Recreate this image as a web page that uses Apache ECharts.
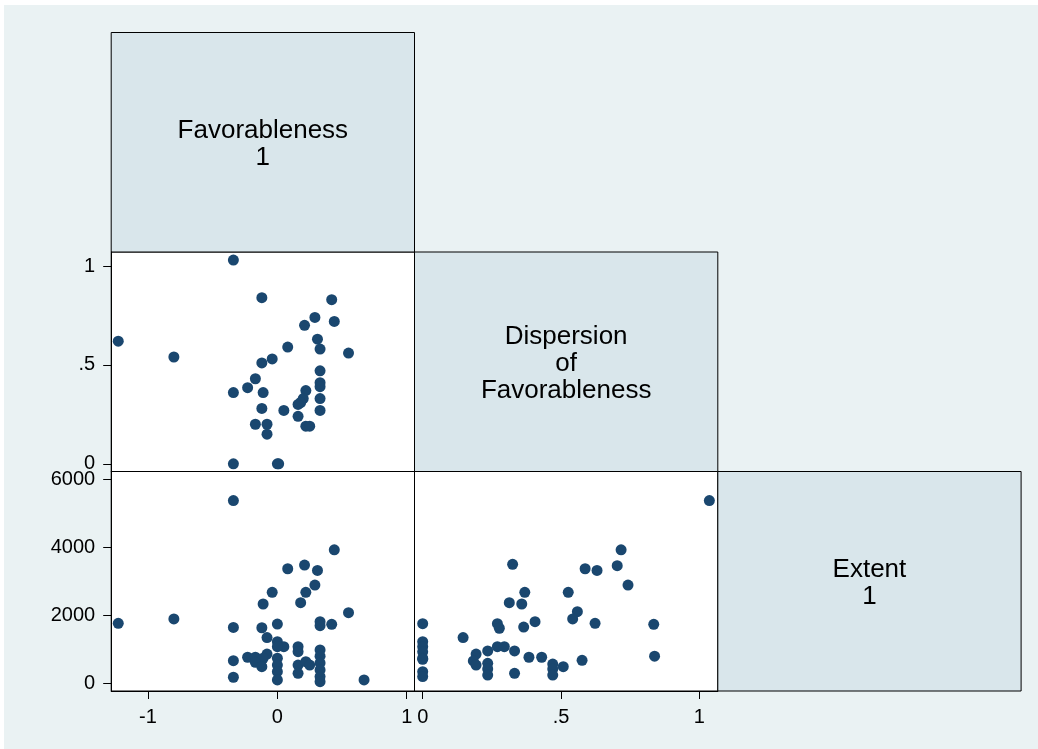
<!DOCTYPE html>
<html>
<head>
<meta charset="utf-8">
<style>html,body{margin:0;padding:0;background:#fff;}#c{width:1038px;height:749px;}</style>
<script src="https://cdn.jsdelivr.net/npm/echarts@6/dist/echarts.min.js"></script>
</head>
<body>
<div id="c"></div>
<script>
// Variable names shown on the diagonal
const varLabels = ['Favorableness\n1', 'Dispersion\nof\nFavorableness', 'Extent\n1'];

// Tick labels
const favTicks = [-1, 0, 1];
const dispTicks = [0, 0.5, 1];
const extTicks = [0, 2000, 4000, 6000];

// Favorableness (x) vs Dispersion (y)
const favDisp = [
  [-0.34,1.03],[-0.12,0.84],[0.42,0.83],[0.29,0.74],[0.44,0.72],[0.21,0.70],
  [0.31,0.63],[-1.23,0.62],[0.33,0.58],[0.08,0.59],[0.55,0.56],[-0.80,0.54],
  [-0.04,0.53],[-0.12,0.51],[0.33,0.47],[-0.17,0.43],[0.33,0.41],[0.33,0.39],
  [-0.23,0.385],[0.22,0.37],[-0.34,0.36],[-0.11,0.36],[0.33,0.33],[0.20,0.33],
  [0.18,0.31],[0.16,0.30],[-0.12,0.28],[0.05,0.27],[0.33,0.27],[0.16,0.24],
  [-0.17,0.20],[-0.08,0.20],[0.22,0.19],[0.25,0.19],[-0.08,0.15],
  [-0.34,0],[0,0],[0.01,0]
];

// Favorableness (x) vs Extent (y)
const favExt = [
  [-0.34,5380],[0.44,3930],[0.08,3370],[0.21,3480],[0.31,3320],[0.29,2890],
  [0.22,2675],[-0.04,2675],[0.18,2370],[-0.11,2330],[0.55,2075],[-1.23,1760],
  [-0.80,1890],[-0.34,1640],[-0.12,1630],[0,1740],[0.33,1810],[0.33,1690],
  [0.42,1730],[-0.08,1340],[0,1220],[0.05,1070],[0,1070],[0.16,1070],
  [0.16,925],[0.33,975],[-0.23,760],[-0.17,760],[-0.08,855],[-0.11,730],
  [-0.17,610],[-0.12,480],[-0.34,660],[-0.34,170],[0,730],[0,530],[0,335],
  [0,90],[0.16,530],[0.16,285],[0.22,630],[0.25,530],[0.33,790],[0.33,590],
  [0.33,385],[0.33,190],[0.33,40],[0.67,90]
];

// Dispersion (x) vs Extent (y)
const dispExt = [
  [1.036,5380],[0.717,3930],[0.325,3500],[0.587,3370],[0.630,3320],[0.703,3460],
  [0.742,2890],[0.369,2675],[0.526,2675],[0.313,2370],[0.358,2330],[0.559,2105],
  [0.542,1890],[0,1750],[0.270,1750],[0.277,1615],[0.365,1650],[0.406,1810],
  [0.623,1760],[0.835,1730],[0,1220],[0,1070],[0.146,1340],[0.270,1070],
  [0.295,1070],[0.235,945],[0.332,945],[0.193,855],[0,920],[0,730],[0,700],
  [0.183,650],[0.193,530],[0.235,580],[0.235,415],[0.235,235],[0.384,760],
  [0.430,760],[0.470,560],[0.470,415],[0.470,235],[0.508,480],[0.576,670],
  [0.838,790],[0.332,285],[0,335],[0,190]
];

const FONT = '"Liberation Sans", Arial, Helvetica, sans-serif';
const navy = '#1A476F';
const panelFill = '#D9E6EB';
const colX = [111.2, 414.5, 717.8];
const rowY = [32.5, 252, 471.5];
const cw = 303.3, rh = 219.5;

const favRange = [-1.2845, 1.060];
const dispXRange = [-0.0296, 1.0665];
const dispYRange = [-0.0389, 1.0708];
const extRange = [-236, 6239];

function fmt(v) {
  if (v !== 0 && Math.abs(v) < 1) {
    return (v < 0 ? '-' : '') + String(Math.abs(v)).replace(/^0\./, '.');
  }
  return String(v);
}

function mkGrid(c, r) {
  return {left: colX[c], top: rowY[r], width: cw, height: rh, show: true,
    backgroundColor: '#ffffff', borderColor: '#000', borderWidth: 1,
    containLabel: false, outerBoundsMode: 'none'};
}

function axis(type, grid, range, ticks, show, pos) {
  return {
    type: 'value', gridIndex: grid, min: range[0], max: range[1], position: pos,
    splitLine: {show: false},
    axisLine: {show: true, onZero: false, lineStyle: {color: '#000', width: 1}},
    axisTick: {show: show, length: 8, inside: false, customValues: ticks, lineStyle: {color: '#000', width: 1}},
    axisLabel: {show: show, customValues: ticks, formatter: fmt, color: '#000',
      fontSize: 20, fontFamily: FONT, margin: type === 'x' ? 16 : 16},
    minorTick: {show: false}
  };
}

const chart = echarts.init(document.getElementById('c'), null, {renderer: 'canvas'});

const labelRects = [[0,0],[1,1],[2,2]].map(([c, r], i) => ([
  {type: 'rect', shape: {x: colX[c], y: rowY[r], width: cw, height: rh},
   style: {fill: panelFill, stroke: '#000', lineWidth: 1}},
  {type: 'text', x: colX[c] + cw / 2, y: rowY[r] + rh / 2 + 2,
   style: {text: varLabels[i], fill: '#000', font: '26px ' + FONT,
     align: 'center', verticalAlign: 'middle', lineHeight: 27}}
])).flat();

chart.setOption({
  animation: false,
  backgroundColor: '#EAF2F3',
  graphic: [
    {type: 'rect', shape: {x: 0, y: 0, width: 1038, height: 5}, style: {fill: '#fff'}},
    {type: 'rect', shape: {x: 0, y: 0, width: 4, height: 749}, style: {fill: '#fff'}},
    ...labelRects
  ],
  grid: [mkGrid(0, 1), mkGrid(0, 2), mkGrid(1, 2)],
  xAxis: [
    axis('x', 0, favRange, favTicks, false, 'bottom'),
    axis('x', 1, favRange, favTicks, true, 'bottom'),
    axis('x', 2, dispXRange, dispTicks, true, 'bottom')
  ],
  yAxis: [
    axis('y', 0, dispYRange, dispTicks, true, 'left'),
    axis('y', 1, extRange, extTicks, true, 'left'),
    axis('y', 2, extRange, extTicks, false, 'left')
  ],
  series: [
    {type: 'scatter', xAxisIndex: 0, yAxisIndex: 0, data: favDisp},
    {type: 'scatter', xAxisIndex: 1, yAxisIndex: 1, data: favExt},
    {type: 'scatter', xAxisIndex: 2, yAxisIndex: 2, data: dispExt}
  ].map(s => Object.assign(s, {symbol: 'circle', symbolSize: 11,
    itemStyle: {color: navy, opacity: 1}, emphasis: {disabled: true}}))
});
</script>
</body>
</html>
